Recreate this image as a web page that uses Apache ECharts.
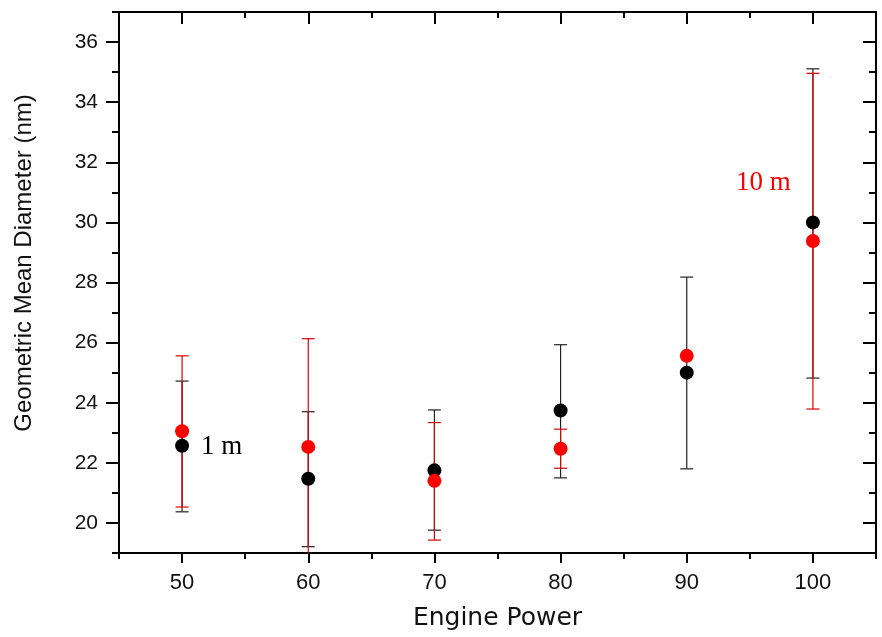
<!DOCTYPE html>
<html>
<head>
<meta charset="utf-8">
<script src="https://cdn.jsdelivr.net/npm/echarts@6/dist/echarts.min.js"></script>
<style>
html,body{margin:0;padding:0;background:#fff;}
#chart{width:882px;height:637px;}
</style>
</head>
<body>
<div id="chart"></div>
<script>
// ---- data ----
var power = [50, 60, 70, 80, 90, 100];
var mean1m = [22.57, 21.47, 21.75, 23.74, 25.0, 30.0];
var low1m = [20.37, 19.21, 19.76, 21.5, 21.8, 24.82];
var high1m = [24.72, 23.7, 23.76, 25.93, 28.18, 35.11];
var mean10m = [23.05, 22.53, 21.4, 22.47, 25.56, 29.38];
var low10m = [20.53, 18.9, 19.43, 21.82, null, 23.79];
var high10m = [25.56, 26.13, 23.34, 23.12, null, 34.96];
var xMajor = [50, 60, 70, 80, 90, 100];
var xMinor = [45, 55, 65, 75, 85, 95, 105];
var yMajor = [20, 22, 24, 26, 28, 30, 32, 34, 36];
var yMinor = [19, 21, 23, 25, 27, 29, 31, 33, 35, 37];
var label1 = '1 m';
var label10 = '10 m';
var xTitle = 'Engine Power';
var yTitle = 'Geometric Mean Diameter (nm)';

function pairs(xs, ys) { return xs.map(function (x, i) { return [x, ys[i]]; }); }
function errData(xs, lo, hi) {
  var out = [];
  xs.forEach(function (x, i) { if (lo[i] != null && hi[i] != null) out.push([x, lo[i], hi[i]]); });
  return out;
}
function errRender(color) {
  return function (params, api) {
    var x = api.value(0);
    var lo = api.coord([x, api.value(1)]);
    var hi = api.coord([x, api.value(2)]);
    var hw = 6.5;
    var st = { stroke: color, lineWidth: 1.2 };
    return {
      type: 'group',
      children: [
        { type: 'line', shape: { x1: lo[0], y1: lo[1], x2: hi[0], y2: hi[1] }, style: st },
        { type: 'line', shape: { x1: lo[0] - hw, y1: lo[1], x2: lo[0] + hw, y2: lo[1] }, style: st },
        { type: 'line', shape: { x1: hi[0] - hw, y1: hi[1], x2: hi[0] + hw, y2: hi[1] }, style: st }
      ]
    };
  };
}

var axisLineStyle = { color: '#000', width: 2 };

function xAx(pos, values, len, inside, showLabel, showName) {
  var a = {
    type: 'value', min: 45, max: 105, position: pos,
    axisLine: { show: true, onZero: false, lineStyle: axisLineStyle },
    axisTick: { show: true, inside: inside, length: len, customValues: values, lineStyle: { color: '#000', width: 2 } },
    axisLabel: showLabel ? { show: true, margin: 19, customValues: xMajor, fontFamily: 'Liberation Sans, Arial', fontSize: 22, color: '#111' } : { show: false },
    splitLine: { show: false }
  };
  if (showName) {
    a.name = xTitle;
    a.nameLocation = 'middle';
    a.nameGap = 53;
    a.nameTextStyle = { fontFamily: 'DejaVu Sans', fontSize: 25, color: '#111' };
  }
  return a;
}
function yAx(pos, values, len, inside, showLabel) {
  return {
    type: 'value', min: 19, max: 37, position: pos,
    axisLine: { show: true, onZero: false, lineStyle: axisLineStyle },
    axisTick: { show: true, inside: inside, length: len, customValues: values, lineStyle: { color: '#000', width: 2 } },
    axisLabel: showLabel ? { show: true, margin: 21, customValues: yMajor, fontFamily: 'Liberation Sans, Arial', fontSize: 21, color: '#111' } : { show: false },
    splitLine: { show: false }
  };
}

var chart = echarts.init(document.getElementById('chart'), null, { renderer: 'canvas' });
chart.setOption({
  backgroundColor: '#fff',
  animation: false,
  grid: { left: 119, right: 6, top: 12, bottom: 84, containLabel: false, outerBoundsMode: 'none' },
  xAxis: [
    xAx('bottom', xMajor, 10, false, true, true),
    xAx('bottom', xMinor, 6, false, false, false),
    xAx('top', xMajor, 12, true, false, false),
    xAx('top', xMinor, 6, true, false, false)
  ],
  yAxis: [
    yAx('left', yMajor, 13, false, true),
    yAx('left', yMinor, 7, false, false),
    yAx('right', yMajor, 13, true, false),
    yAx('right', yMinor, 7, true, false)
  ],
  series: [
    { type: 'custom', name: 'err1', clip: true, renderItem: errRender('#222'), data: errData(power, low1m, high1m), z: 2, encode: { x: 0, y: [1, 2] } },
    { type: 'custom', name: 'err10', clip: true, renderItem: errRender('#e00000'), data: errData(power, low10m, high10m), z: 3, encode: { x: 0, y: [1, 2] } },
    { type: 'scatter', name: '1 m', data: pairs(power, mean1m), symbol: 'circle', symbolSize: 14, itemStyle: { color: '#000', opacity: 1 }, z: 4 },
    { type: 'scatter', name: '10 m', data: pairs(power, mean10m), symbol: 'circle', symbolSize: 14, itemStyle: { color: '#ff0000', opacity: 1 }, z: 5 }
  ]
});

// text annotations positioned from data coordinates
var p1 = chart.convertToPixel({ xAxisIndex: 0, yAxisIndex: 0 }, [power[0], mean1m[0]]);
var p10 = chart.convertToPixel({ xAxisIndex: 0, yAxisIndex: 0 }, [power[5], mean10m[5]]);
chart.setOption({
  graphic: [
    { type: 'text', left: p1[0] + 19, top: p1[1] - 12, style: { text: label1, fontFamily: 'Liberation Serif, Times New Roman', fontSize: 27, fill: '#000' } },
    { type: 'text', left: p10[0] - 77, top: p10[1] - 72, style: { text: label10, fontFamily: 'Liberation Serif, Times New Roman', fontSize: 27, fill: '#ff0000' } },
    { type: 'text', x: 24, y: 263, rotation: Math.PI / 2,
      style: { text: yTitle, fontFamily: 'Liberation Sans, Arial', fontSize: 24, fill: '#111', align: 'center', verticalAlign: 'middle', textAlign: 'center', textVerticalAlign: 'middle' } }
  ]
});
</script>
</body>
</html>
